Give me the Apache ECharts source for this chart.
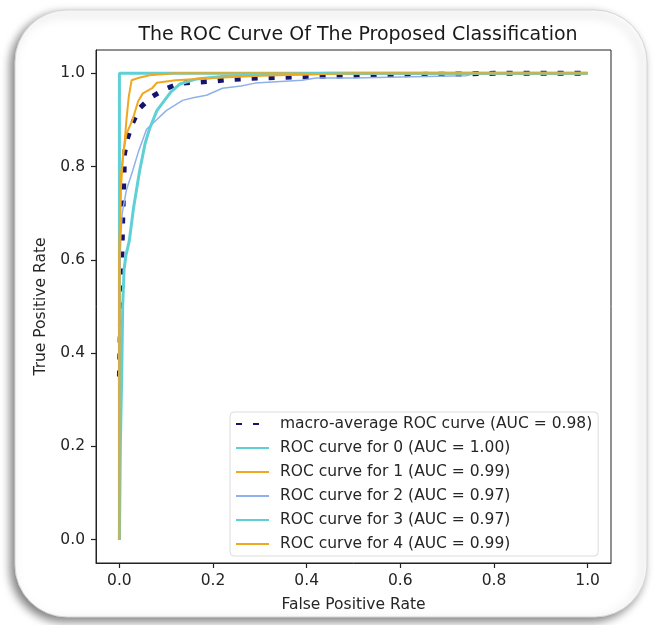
<!DOCTYPE html>
<html>
<head>
<meta charset="utf-8">
<script src="https://cdn.jsdelivr.net/npm/echarts@6/dist/echarts.min.js"></script>
<style>
  html, body { margin: 0; padding: 0; background: #fff; }
  #chart { width: 657px; height: 625px; }
</style>
</head>
<body>
<div id="chart"></div>
<script>
    // 数据：每条ROC曲线 [FPR, TPR]
    var tickValues = [0, 0.2, 0.4, 0.6, 0.8, 1.0];
    var seriesNames = [
        'macro-average ROC curve (AUC = 0.98)',
        'ROC curve for 0 (AUC = 1.00)',
        'ROC curve for 1 (AUC = 0.99)',
        'ROC curve for 2 (AUC = 0.97)',
        'ROC curve for 3 (AUC = 0.97)',
        'ROC curve for 4 (AUC = 0.99)'
    ];
    var rocMacro = [[0,0.35],[0.003,0.5],[0.005,0.6],[0.007,0.685],[0.009,0.756],[0.011,0.828],[0.017,0.86],
        [0.028,0.893],[0.043,0.925],[0.068,0.949],[0.097,0.966],[0.129,0.979],[0.165,0.981],[0.2,0.983],
        [0.236,0.987],[0.3,0.99],[0.4,0.993],[0.5,0.995],[0.6,0.997],[0.75,0.999],[0.8,1],[1,1]];
    var roc0 = [[0,0],[0,1],[1,1]];
    var roc1 = [[0,0],[0,0.62],[0.003,0.78],[0.011,0.85],[0.015,0.9],[0.02,0.95],[0.026,0.985],
        [0.04,0.99],[0.064,0.996],[0.12,1],[1,1]];
    var roc2 = [[0,0],[0,0.55],[0.003,0.65],[0.006,0.7],[0.015,0.75],[0.028,0.79],[0.04,0.83],[0.058,0.88],
        [0.079,0.9],[0.1,0.92],[0.135,0.942],[0.16,0.948],[0.186,0.953],[0.22,0.968],[0.26,0.973],
        [0.29,0.979],[0.39,0.985],[0.42,0.99],[0.5,0.99],[0.6,0.992],[0.74,0.995],[0.76,1],[1,1]];
    var roc3 = [[0,0],[0.002,0.2],[0.005,0.36],[0.007,0.5],[0.01,0.58],[0.014,0.61],[0.021,0.64],[0.03,0.71],
        [0.043,0.79],[0.055,0.85],[0.064,0.88],[0.08,0.92],[0.092,0.936],[0.11,0.96],[0.129,0.977],
        [0.165,0.988],[0.22,0.993],[0.3,0.997],[0.45,1],[1,1]];
    var roc4 = [[0,0],[0,0.6],[0.003,0.75],[0.008,0.83],[0.015,0.87],[0.028,0.9],[0.04,0.94],[0.05,0.957],
        [0.07,0.968],[0.08,0.98],[0.12,0.985],[0.2,0.99],[0.3,0.995],[0.5,1],[1,1]];

    var myChart = echarts.init(document.getElementById('chart'));

    var textColor = '#262626';
    var font = 'DejaVu Sans';
    function line(name, data, color, width, dash) {
        return {
            name: name,
            type: 'line',
            data: data,
            symbol: 'none',
            animation: false,
            lineStyle: { color: color, width: width, type: dash || 'solid', cap: 'butt' },
            itemStyle: { color: color }
        };
    }

option = {
    animation: false,
    // 外框（圆角+阴影）
    graphic: [{
        type: 'rect',
        z: -100,
        shape: { x: 15, y: 10, width: 632, height: 607, r: 52 },
        style: {
            fill: '#fff',
            stroke: '#d5d5d5',
            lineWidth: 1,
            shadowBlur: 10,
            shadowColor: 'rgba(0,0,0,0.5)',
            shadowOffsetX: -4,
            shadowOffsetY: 4
        }
    }],
    title: {
        text: 'The ROC Curve Of The Proposed Classification',
        left: 353,
        top: 21,
        textAlign: 'center',
        textStyle: { fontFamily: font, fontSize: 19, fontWeight: 'normal', color: '#1a1a1a' }
    },
    grid: {
        left: 96,
        right: 46,
        top: 50,
        bottom: 62,
        show: true,
        borderColor: '#222',
        borderWidth: 1
    },
    legend: {
        orient: 'vertical',
        left: 230,
        top: 412,
        itemWidth: 33,
        itemHeight: 14,
        itemGap: 8,
        padding: [4, 6, 4, 5],
        backgroundColor: 'rgba(255,255,255,0.85)',
        borderColor: '#dcdcdc',
        borderWidth: 1,
        borderRadius: 4,
        itemStyle: { opacity: 0 },
        textStyle: { fontFamily: font, fontSize: 15.5, color: textColor, padding: [0, 0, 0, 6] },
        data: seriesNames
    },
    xAxis: {
        type: 'value',
        min: -0.05,
        max: 1.05,
        name: 'False Positive Rate',
        nameLocation: 'middle',
        nameGap: 34,
        nameTextStyle: { fontFamily: font, fontSize: 15.5, color: textColor },
        axisLine: { show: true, onZero: false, lineStyle: { color: '#222', width: 1 } },
        splitLine: { show: false },
        axisTick: { show: true, customValues: tickValues, length: 5, lineStyle: { color: '#222', width: 1.2 } },
        axisLabel: {
            customValues: tickValues,
            margin: 10,
            fontFamily: font, fontSize: 15.5, color: textColor,
            formatter: function (v) { return v.toFixed(1); }
        }
    },
    yAxis: {
        type: 'value',
        min: -0.05,
        max: 1.05,
        name: 'True Positive Rate',
        nameLocation: 'middle',
        nameGap: 42,
        nameTextStyle: { fontFamily: font, fontSize: 15.5, color: textColor },
        axisLine: { show: true, onZero: false, lineStyle: { color: '#222', width: 1 } },
        splitLine: { show: false },
        axisTick: { show: true, customValues: tickValues, length: 5, lineStyle: { color: '#222', width: 1.2 } },
        axisLabel: {
            customValues: tickValues,
            margin: 11,
            fontFamily: font, fontSize: 15.5, color: textColor,
            formatter: function (v) { return v.toFixed(1); }
        }
    },
    series: [
        line(seriesNames[0], rocMacro, '#14146e', 5, [6, 11]),
        line(seriesNames[1], roc0, '#5fd0d6', 3),
        line(seriesNames[2], roc1, '#f0a820', 2),
        line(seriesNames[3], roc2, '#8fb0ea', 1.5),
        line(seriesNames[4], roc3, '#5fd0d6', 3),
        line(seriesNames[5], roc4, '#f0a820', 2)
    ]
};

myChart.setOption(option);
</script>
</body>
</html>
